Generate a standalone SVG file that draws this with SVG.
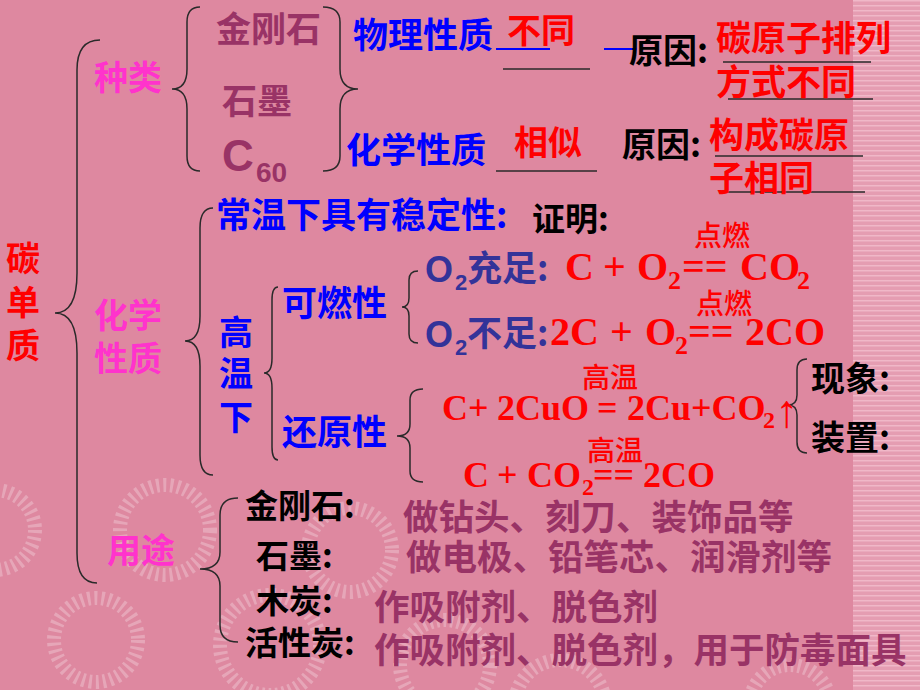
<svg xmlns="http://www.w3.org/2000/svg" width="920" height="690" viewBox="0 0 920 690">
<defs>
<style>
.cjk{font-family:"Noto Sans CJK SC","Noto Sans CJK TC",sans-serif;font-weight:bold}
.thin{font-family:"Noto Sans CJK SC",sans-serif;font-weight:500}
.eq{font-family:"Liberation Serif",serif;font-weight:bold;fill:#FF0000}
.sans{font-family:"Liberation Sans",Arial,sans-serif;font-weight:bold}
.red{fill:#FF0000}.blue{fill:#0000FF}.mag{fill:#FF33CC}.mauve{fill:#993366}.blk{fill:#000000}.slate{fill:#333399}
.brace{fill:none;stroke:#2a2a2a;stroke-width:1.5}
.blank{stroke:#2a2a2a;stroke-width:1.5}
.bblank{stroke:#0000FF;stroke-width:2}
.ring{fill:none;stroke:#ffffff;stroke-opacity:0.25;stroke-width:14;stroke-dasharray:3 4}
</style>
<pattern id="stripes" width="8" height="5" patternUnits="userSpaceOnUse">
<rect width="8" height="5" fill="#E59DB2"/>
<rect y="0" width="8" height="1.5" fill="#F0B8C8"/>
</pattern>
</defs>
<g id="background">
<rect width="920" height="690" fill="#DE88A0"/>
<rect x="853" y="0" width="67" height="690" fill="url(#stripes)"/>
<circle class="ring" cx="-5" cy="530" r="40"/>
<circle class="ring" cx="165" cy="530" r="45"/>
<circle class="ring" cx="96" cy="640" r="42"/>
<circle class="ring" cx="350" cy="550" r="42"/>
<circle class="ring" cx="270" cy="645" r="50"/>
<circle class="ring" cx="445" cy="665" r="45"/>
<circle class="ring" cx="560" cy="705" r="45"/>
<circle class="ring" cx="790" cy="705" r="40"/>
</g>
<g id="connectors">
<path class="brace" d="M100,40 Q77,40 77,70 L77,273 Q77,313 55,313 Q77,313 77,353 L77,553 Q77,583 97,583"/>
<path class="brace" d="M200,7 Q187,7 187,22 L187,69 Q187,89 172,89 Q187,89 187,109 L187,156 Q187,171 200,171"/>
<path class="brace" d="M323,7 Q340,7 340,22 L340,69 Q340,89 358,89 Q340,89 340,109 L340,156 Q340,171 323,171"/>
<path class="brace" d="M213,208 Q200,208 200,228 L200,316 Q200,341 185,341 Q200,341 200,366 L200,455 Q200,475 213,475"/>
<path class="brace" d="M278,287 Q272,287 272,300 L272,358 Q272,373 264,373 Q272,373 272,388 L272,447 Q272,460 278,460"/>
<path class="brace" d="M418,271 Q409,271 409,280 L409,298 Q409,307 402,307 Q409,307 409,316 L409,334 Q409,343 418,343"/>
<path class="brace" d="M423,389 Q410,389 410,400 L410,424 Q410,436 397,436 Q410,436 410,448 L410,471 Q410,482 423,482"/>
<path class="brace" d="M807,359 Q797,359 797,370 L797,395 Q797,405 788,405 Q797,405 797,415 L797,442 Q797,453 807,453"/>
<path class="brace" d="M238,498 Q220,498 220,515 L220,552 Q220,569 200,569 Q220,569 220,586 L220,625 Q220,642 238,642"/>
</g>
<g id="blanks">
<line class="bblank" x1="496" y1="49" x2="550" y2="49"/>
<line class="bblank" x1="604" y1="49" x2="637" y2="49"/>
<line class="blank" x1="503" y1="69" x2="590" y2="69"/>
<line class="blank" x1="723" y1="62" x2="871" y2="62"/>
<line class="blank" x1="728" y1="99" x2="873" y2="99"/>
<line class="blank" x1="496" y1="171" x2="597" y2="171"/>
<line class="blank" x1="715" y1="156" x2="863" y2="156"/>
<line class="blank" x1="727" y1="192" x2="865" y2="192"/>
</g>
<g id="root">
<text class="cjk red" font-size="34" x="6" y="271">碳</text>
<text class="cjk red" font-size="34" x="6" y="315">单</text>
<text class="cjk red" font-size="34" x="6" y="358">质</text>
</g>
<g id="kinds">
<text class="cjk mag" font-size="34" x="94" y="90">种类</text>
<text class="cjk mauve" font-size="35" x="216" y="42">金刚石</text>
<text class="cjk mauve" font-size="35" x="222" y="114">石墨</text>
<text class="sans mauve" font-size="44" x="222" y="171">C</text>
<text class="sans mauve" font-size="28" x="256" y="182">60</text>
</g>
<g id="physical">
<text class="cjk blue" font-size="35" x="353" y="48">物理性质</text>
<text class="cjk red" font-size="34" x="507" y="43">不同</text>
<text class="cjk blk" font-size="34" x="629" y="63">原因:</text>
<text class="cjk red" font-size="35" x="716" y="51">碳原子排列</text>
<text class="cjk red" font-size="35" x="716" y="95">方式不同</text>
</g>
<g id="chemical-similar">
<text class="cjk blue" font-size="35" x="346" y="163">化学性质</text>
<text class="cjk red" font-size="34" x="514" y="155">相似</text>
<text class="cjk blk" font-size="34" x="622" y="157">原因:</text>
<text class="cjk red" font-size="35" x="709" y="148">构成碳原</text>
<text class="cjk red" font-size="35" x="709" y="191">子相同</text>
</g>
<g id="chemical">
<text class="cjk mag" font-size="34" x="94" y="328">化学</text>
<text class="cjk mag" font-size="34" x="94" y="371">性质</text>
</g>
<g id="stability">
<text class="cjk blue" font-size="35" x="216" y="228">常温下具有稳定性:</text>
<text class="cjk blk" font-size="33" x="532" y="231">证明:</text>
</g>
<g id="high-temp">
<text class="cjk blue" font-size="34" x="219" y="345">高</text>
<text class="cjk blue" font-size="34" x="219" y="386">温</text>
<text class="cjk blue" font-size="34" x="219" y="430">下</text>
</g>
<g id="combustible">
<text class="cjk blue" font-size="35" x="282" y="316">可燃性</text>
</g>
<g id="o2-enough">
<text class="sans slate" font-size="36" x="425" y="282">O</text>
<text class="sans slate" font-size="22" x="455" y="290">2</text>
<text class="cjk slate" font-size="35" x="467" y="281">充足:</text>
<text class="thin red" font-size="28" x="694" y="246">点燃</text>
<text class="eq" font-size="40" y="280"><tspan x="565">C</tspan><tspan x="603">+</tspan><tspan x="637">O</tspan><tspan x="682">==</tspan><tspan x="740">CO</tspan></text>
<text class="eq" font-size="26" y="289"><tspan x="668">2</tspan><tspan x="797">2</tspan></text>
</g>
<g id="o2-lack">
<text class="sans slate" font-size="36" x="425" y="347">O</text>
<text class="sans slate" font-size="22" x="455" y="355">2</text>
<text class="cjk slate" font-size="35" x="467" y="346">不足:</text>
<text class="thin red" font-size="28" x="696" y="314">点燃</text>
<text class="eq" font-size="40" y="345"><tspan x="550">2C</tspan><tspan x="610">+</tspan><tspan x="645">O</tspan><tspan x="688">==</tspan><tspan x="745">2CO</tspan></text>
<text class="eq" font-size="26" y="354"><tspan x="675">2</tspan></text>
</g>
<g id="reducing">
<text class="cjk blue" font-size="35" x="282" y="445">还原性</text>
</g>
<g id="cuo-reaction">
<text class="thin red" font-size="28" x="582" y="388">高温</text>
<text class="eq" font-size="36" y="420"><tspan x="442">C+</tspan><tspan x="497">2CuO</tspan><tspan x="597">=</tspan><tspan x="627">2Cu+CO</tspan></text>
<text class="eq" font-size="24" x="763" y="428">2</text>
<text font-family="Liberation Serif,serif" font-size="46" fill="#FF0000" x="775" y="427">↑</text>
</g>
<g id="co2-reaction">
<text class="thin red" font-size="28" x="587" y="461">高温</text>
<text class="eq" font-size="36" y="487"><tspan x="463">C</tspan><tspan x="497">+</tspan><tspan x="527">CO</tspan><tspan x="593">==</tspan><tspan x="643">2CO</tspan></text>
<text class="eq" font-size="24" x="582" y="495">2</text>
</g>
<g id="observe">
<text class="cjk blk" font-size="34" x="811" y="391">现象:</text>
<text class="cjk blk" font-size="34" x="811" y="450">装置:</text>
</g>
<g id="uses">
<text class="cjk mag" font-size="34" x="107" y="563">用途</text>
<text class="cjk blk" font-size="33" x="245" y="518">金刚石:</text>
<text class="cjk blk" font-size="33" x="256" y="568">石墨:</text>
<text class="cjk blk" font-size="33" x="256" y="613">木炭:</text>
<text class="cjk blk" font-size="33" x="245" y="655">活性炭:</text>
<text class="cjk mauve" font-size="35.5" x="403" y="530">做钻头、刻刀、装饰品等</text>
<text class="cjk mauve" font-size="35.5" x="406" y="570">做电极、铅笔芯、润滑剂等</text>
<text class="cjk mauve" font-size="35.5" x="374" y="620">作吸附剂、脱色剂</text>
<text class="cjk mauve" font-size="35.5" x="374" y="663">作吸附剂、脱色剂，用于防毒面具</text>
</g>
</svg>
